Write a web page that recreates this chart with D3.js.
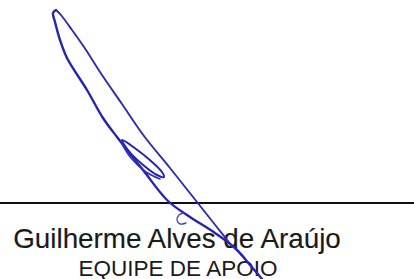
<!DOCTYPE html>
<html>
<head>
<meta charset="utf-8">
<script src="https://cdn.jsdelivr.net/npm/d3@7"></script>
<style>
  html, body { margin: 0; padding: 0; background: #fff; }
  svg { display: block; }
</style>
</head>
<body>
<div id="chart"></div>
<script>
// signature strokes, picture coords
var leftStroke = [[262,279],[250,265],[236,249],[215,233],[190,217],[168,201],[143,170],[117,137],[103,118],[87,90],[67,58],[60,40],[55,22],[53,13],[56,10]];
var rightStroke = [[56,10],[61,15],[72,30],[86,50],[100,72],[122,104],[144,136],[170,168],[197,202],[216,226],[232,246]];
var innerLoop = [[122,140],[136,149],[151,161],[162,172],[164,177],[157,175],[142,164],[128,150]];
var innerTail = [[122,144],[131,158],[146,172],[160,179]];
var smallMark = [[184,213],[179,215],[177,220],[180,224],[186,223]];

var names = ["Guilherme Alves de Araújo"];
var roles = ["EQUIPE DE APOIO"];

var width = 414, height = 279;

var x = d3.scaleLinear().domain([0, 414]).range([0, width]);
var y = d3.scaleLinear().domain([0, 279]).range([0, height]);

var svg = d3.select("#chart").append("svg")
    .attr("width", width)
    .attr("height", height);

svg.append("rect").attr("width", width).attr("height", height).attr("fill", "#fff");

// signature line
svg.append("line")
    .attr("x1", x(0)).attr("x2", x(414))
    .attr("y1", y(203)).attr("y2", y(203))
    .attr("stroke", "#101010")
    .attr("stroke-width", 2.2);

var line = d3.line()
    .x(function(d) { return x(d[0]); })
    .y(function(d) { return y(d[1]); })
    .curve(d3.curveCatmullRom);

var closedLine = d3.line()
    .x(function(d) { return x(d[0]); })
    .y(function(d) { return y(d[1]); })
    .curve(d3.curveCatmullRomClosed);

var font = "'Liberation Sans', Arial, sans-serif";

svg.selectAll(".name")
    .data(names)
    .enter().append("text")
    .attr("class", "name")
    .attr("x", x(177)).attr("y", y(248))
    .attr("text-anchor", "middle")
    .attr("font-family", font)
    .attr("font-size", 27.8)
    .attr("fill", "#1a1a1a")
    .attr("stroke", "#1a1a1a")
    .attr("stroke-width", 0.15)
    .text(function(d) { return d; });

svg.selectAll(".role")
    .data(roles)
    .enter().append("text")
    .attr("class", "role")
    .attr("x", x(178)).attr("y", y(275.5))
    .attr("text-anchor", "middle")
    .attr("font-family", font)
    .attr("font-size", 22.5)
    .attr("fill", "#1a1a1a")
    .text(function(d) { return d; });

// ink goes over the printed text
var ink = svg.append("g")
    .attr("fill", "none")
    .attr("stroke-linecap", "round")
    .attr("stroke-linejoin", "round");

ink.append("path").attr("d", line(leftStroke)).attr("stroke", "#2424ac").attr("stroke-width", 2.4);
ink.append("path").attr("d", line(rightStroke)).attr("stroke", "#2c2cb4").attr("stroke-width", 1.9);
ink.append("path").attr("d", closedLine(innerLoop)).attr("stroke", "#2424ac").attr("stroke-width", 2);
ink.append("path").attr("d", line(innerTail)).attr("stroke", "#3030b8").attr("stroke-width", 1.6);
ink.append("path").attr("d", line(smallMark)).attr("stroke", "#4444c4").attr("stroke-width", 1.4);
</script>
</body>
</html>
